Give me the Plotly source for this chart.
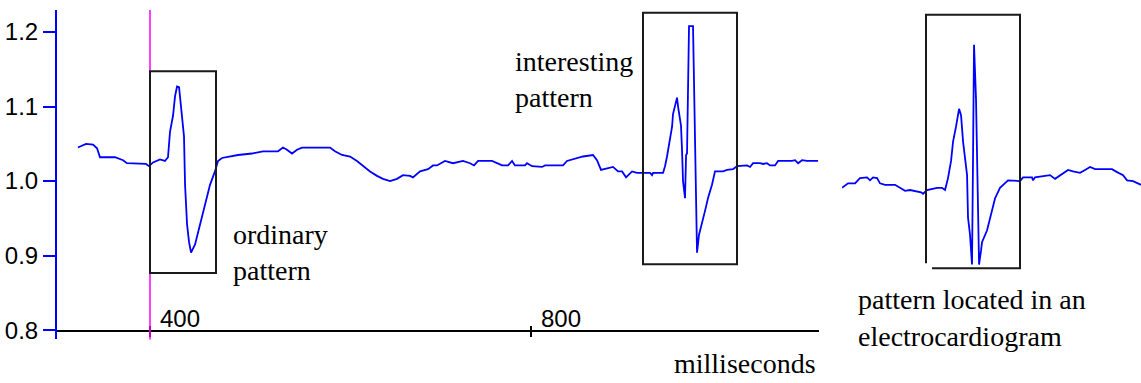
import plotly.graph_objects as go

# ---------------- data ----------------
# main ECG trace: time in milliseconds, signal value
ecg_ms = [324.4, 332.8, 340.2, 344.4, 347.5, 363.3, 371.7, 375.8, 395.8, 399.0,
          403.2, 410.5, 415.7, 418.9, 421.0, 424.2, 426.3, 428.4, 430.5, 432.6,
          435.7, 436.8, 438.9, 441.0, 443.1, 447.3, 452.5, 457.8, 463.0, 468.2,
          471.4, 475.6, 484.0, 492.4, 507.1, 518.6, 534.4, 539.6, 543.8, 549.1,
          554.3, 559.6, 589.0, 594.2, 601.6, 610.0, 617.3, 623.6, 631.0, 638.3,
          644.6, 652.0, 659.3, 665.6, 673.0, 676.1, 683.5, 691.9, 697.1, 701.3,
          709.7, 718.1, 728.6, 736.0, 740.2, 744.4, 749.6, 759.1, 769.6, 775.9,
          780.1, 783.2, 793.7, 795.8, 801.1, 811.6, 814.7, 833.6, 837.8, 848.3,
          854.6, 865.1, 869.3, 873.5, 879.8, 886.1, 891.4, 895.6, 899.8, 906.1,
          911.3, 925.0, 927.1, 928.2, 938.6, 940.7, 942.8, 944.9, 948.1, 949.1,
          951.2, 953.3, 954.4, 957.5, 958.6, 959.6, 961.7, 962.8, 963.8, 964.9,
          965.9, 970.1, 971.2, 973.3, 974.3, 976.4, 979.5, 982.7, 985.8, 990.0,
          993.2, 1001.6, 1005.8, 1012.1, 1016.3, 1026.8, 1030.0, 1033.1, 1040.5, 1043.6,
          1047.8, 1051.0, 1056.2, 1059.4, 1074.1, 1077.2, 1080.4, 1084.6, 1089.8, 1101.4]
ecg_val = [1.045, 1.050, 1.049, 1.044, 1.032, 1.032, 1.028, 1.024, 1.023, 1.020,
           1.025, 1.029, 1.027, 1.032, 1.066, 1.088, 1.114, 1.127, 1.126, 1.101,
           1.060, 0.995, 0.942, 0.918, 0.904, 0.915, 0.942, 0.971, 0.995, 1.013,
           1.027, 1.031, 1.033, 1.035, 1.037, 1.040, 1.040, 1.045, 1.042, 1.037,
           1.042, 1.045, 1.045, 1.040, 1.035, 1.033, 1.027, 1.020, 1.013, 1.007,
           1.003, 1.000, 1.003, 1.008, 1.007, 1.005, 1.013, 1.016, 1.021, 1.021,
           1.027, 1.024, 1.027, 1.024, 1.021, 1.027, 1.027, 1.027, 1.021, 1.021,
           1.027, 1.021, 1.021, 1.024, 1.020, 1.019, 1.021, 1.021, 1.027, 1.031,
           1.033, 1.035, 1.028, 1.015, 1.017, 1.019, 1.013, 1.013, 1.005, 1.013,
           1.011, 1.011, 1.008, 1.011, 1.011, 1.020, 1.033, 1.050, 1.073, 1.090,
           1.101, 1.112, 1.100, 1.074, 1.040, 1.000, 0.977, 1.035, 1.037, 1.150,
           1.208, 1.208, 1.134, 0.977, 0.904, 0.928, 0.942, 0.960, 0.977, 0.995,
           1.013, 1.013, 1.015, 1.016, 1.020, 1.021, 1.019, 1.024, 1.024, 1.023,
           1.024, 1.021, 1.021, 1.027, 1.027, 1.028, 1.024, 1.028, 1.027, 1.027]

# electrocardiogram excerpt on the right (its own time base, ms)
ecg2_ms = [0.0, 6.3, 13.7, 18.9, 26.3, 29.4, 32.6, 36.8, 39.9, 45.2,
           55.7, 60.9, 66.2, 71.4, 76.7, 83.0, 85.1, 89.3, 99.8, 105.0,
           108.2, 111.3, 114.5, 116.6, 119.7, 121.8, 122.9, 125.0, 127.1, 131.3,
           132.3, 134.4, 136.5, 137.6, 138.6, 140.7, 142.8, 143.9, 146.0, 147.0,
           152.3, 157.5, 160.7, 165.9, 174.3, 186.9, 190.1, 199.5, 200.6, 202.7,
           218.4, 223.7, 228.9, 237.3, 242.6, 249.9, 255.2, 260.4, 265.7, 283.5,
           288.8, 295.1, 299.3, 305.6, 314.0]
ecg2_val = [0.991, 0.997, 0.997, 1.004, 1.005, 1.001, 1.005, 1.004, 0.997, 0.995,
            0.995, 0.991, 0.987, 0.988, 0.987, 0.985, 0.983, 0.988, 0.991, 0.991,
            0.988, 1.004, 1.027, 1.053, 1.073, 1.088, 1.097, 1.088, 1.053, 1.008,
            0.951, 0.928, 0.888, 1.035, 1.183, 1.110, 0.964, 0.888, 0.907, 0.918,
            0.934, 0.960, 0.977, 0.991, 1.001, 1.000, 1.005, 1.005, 1.001, 1.005,
            1.008, 1.003, 1.008, 1.015, 1.013, 1.011, 1.015, 1.019, 1.016, 1.016,
            1.012, 1.008, 1.001, 1.000, 0.995]

y_ticks = [0.8, 0.9, 1.0, 1.1, 1.2]
y_tick_labels = ["0.8", "0.9", "1.0", "1.1", "1.2"]
x_ticks = [400, 800]
x_tick_labels = ["400", "800"]
marker_ms = 400

# highlighted windows (ms range, value range)
ordinary_box = dict(x0=400, x1=469.3, y0=0.8765, y1=1.1474)
interesting_box = dict(x0=917.6, x1=1016.3, y0=0.8884, y1=1.2258)
ecg_box = dict(x0=88.2, x1=186.9, y0=0.8831, y1=1.2231, y_left_bottom=0.8898, x_bottom_start=94.5)

# ---------------- layout helpers ----------------
W, H = 1141, 383


def px_x(p):
    return p / W


def px_y(p):
    return 1 - p / H


BLUE = "#0000ff"
MAGENTA = "#ff00ff"
BOX = "#1a1a1a"
SERIF = "Liberation Serif, Times New Roman, serif"
SANS = "Liberation Sans, Arial, sans-serif"

fig = go.Figure()
fig.add_trace(go.Scatter(x=ecg_ms, y=ecg_val, mode="lines",
                         line=dict(color=BLUE, width=1.8), xaxis="x", yaxis="y",
                         hoverinfo="skip", showlegend=False))
fig.add_trace(go.Scatter(x=ecg2_ms, y=ecg2_val, mode="lines",
                         line=dict(color=BLUE, width=1.8), xaxis="x2", yaxis="y",
                         hoverinfo="skip", showlegend=False))
# carriers for the overlay axes (cross-shaped ticks and tick labels)
for ax in ("x3", "x4", "x5"):
    fig.add_trace(go.Scatter(x=[], y=[], xaxis=ax, yaxis="y", showlegend=False))

ms_per_px = 400 / 381
x_range = [400 - (150 - 57) * ms_per_px, 400 + (819 - 150) * ms_per_px]
y_per_px = 0.1 / 75.3
y_range = [1.0 - (343 - 183) * y_per_px, 1.0 + (183 - 10) * y_per_px]
axis_pos = px_y(334)

shapes = [
    dict(type="line", xref="x", yref="y domain", x0=marker_ms, x1=marker_ms, y0=0, y1=1,
         line=dict(color=MAGENTA, width=1.5)),
    dict(type="rect", xref="x", yref="y", **ordinary_box, line=dict(color=BOX, width=2)),
    dict(type="rect", xref="x", yref="y", **interesting_box, line=dict(color=BOX, width=2)),
    dict(type="path", xref="x2", yref="y",
         path=(f"M {ecg_box['x0']},{ecg_box['y_left_bottom']} L {ecg_box['x0']},{ecg_box['y1']} "
               f"L {ecg_box['x1']},{ecg_box['y1']} L {ecg_box['x1']},{ecg_box['y0']} "
               f"L {ecg_box['x_bottom_start']},{ecg_box['y0']}"),
         line=dict(color=BOX, width=2)),
]

annotations = [
    dict(text="ordinary", x=px_x(231), y=px_y(219)),
    dict(text="pattern", x=px_x(231), y=px_y(256)),
    dict(text="interesting", x=px_x(513), y=px_y(44)),
    dict(text="pattern", x=px_x(513), y=px_y(81)),
    dict(text="milliseconds", x=px_x(672), y=px_y(350)),
    dict(text="pattern located in an", x=px_x(856), y=px_y(285)),
    dict(text="electrocardiogram", x=px_x(856), y=px_y(322)),
]
for a in annotations:
    a.update(xref="paper", yref="paper", xanchor="left", yanchor="top", align="left",
             showarrow=False, font=dict(family=SERIF, size=28, color="#000000"))

tick_common = dict(overlaying="x", matches="x", anchor="free", position=axis_pos,
                   side="bottom", showline=False, ticklen=5, tickwidth=1.5,
                   tickcolor="#000000", tickvals=x_ticks, showticklabels=False,
                   showgrid=False, zeroline=False)

fig.update_layout(
    width=W, height=H,
    margin=dict(l=0, r=0, t=0, b=0),
    paper_bgcolor="white", plot_bgcolor="rgba(0,0,0,0)",
    showlegend=False,
    # axis line
    xaxis=dict(domain=[px_x(57), px_x(819)], range=x_range, anchor="free", position=axis_pos,
               side="bottom", showline=True, linecolor="#000000", linewidth=2,
               ticks="", showticklabels=False,
               showgrid=False, zeroline=False, fixedrange=True),
    # downward and upward halves of the tick marks
    xaxis3=dict(ticks="outside", **tick_common),
    xaxis4=dict(ticks="inside", **tick_common),
    # tick labels, sitting just above the axis line, right of each tick
    xaxis5=dict(overlaying="x", matches="x", anchor="free", position=px_y(335), side="top",
                showline=False, ticks="", tickvals=x_ticks, ticktext=x_tick_labels,
                ticklabelposition="outside right", ticklabelshift=10,
                tickfont=dict(family=SANS, size=24, color="#000000"),
                showgrid=False, zeroline=False),
    xaxis2=dict(domain=[px_x(842), 1.0], range=[0, (W - 842) * ms_per_px], anchor="y",
                visible=False, showgrid=False, zeroline=False),
    yaxis=dict(domain=[px_y(343), px_y(10)], range=y_range, anchor="x",
               showline=True, linecolor=BLUE, linewidth=2,
               ticks="outside", ticklen=12, tickwidth=2, tickcolor=BLUE,
               tickvals=y_ticks, ticktext=y_tick_labels,
               tickfont=dict(family=SANS, size=24, color="#000000"),
               showgrid=False, zeroline=False, fixedrange=True),
    shapes=shapes,
    annotations=annotations,
)

fig.write_html("out.html")
